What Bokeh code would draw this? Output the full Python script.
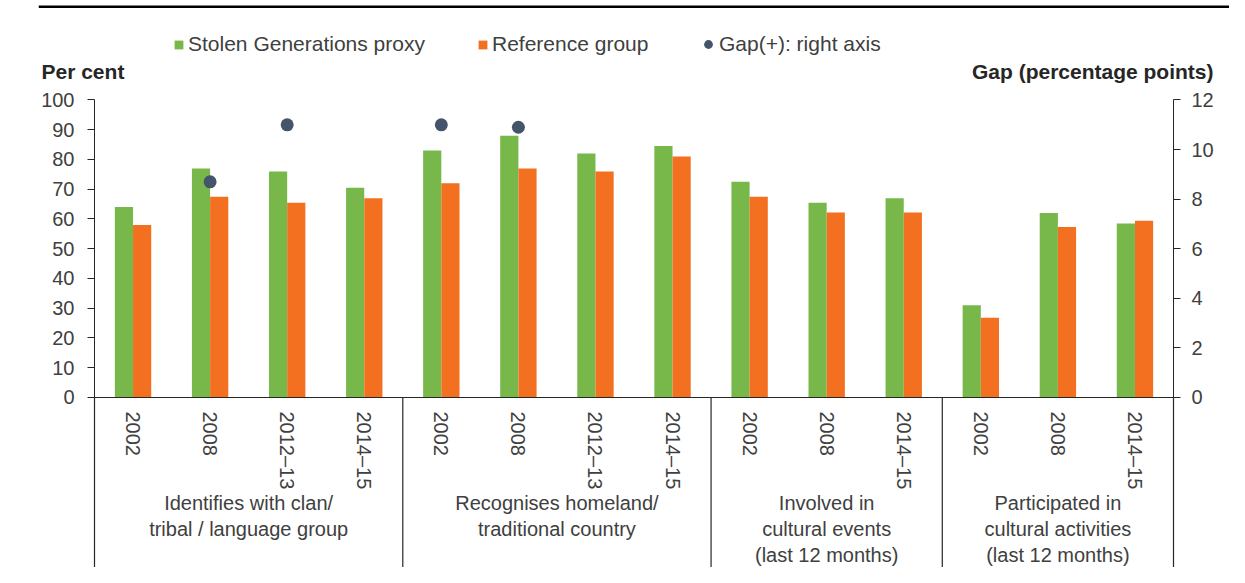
import numpy as np
from bokeh.plotting import figure
from bokeh.models import (FactorRange, Range1d, LinearAxis, CategoricalAxis, Legend,
                          LegendItem, Label, ColumnDataSource, BoxAnnotation)
from bokeh.transform import dodge
from bokeh.embed import file_html
from bokeh.resources import INLINE

# ---------------- data ----------------
groups = [
    "Identifies with clan/\ntribal / language group",
    "Recognises homeland/\ntraditional country",
    "Involved in\ncultural events\n(last 12 months)",
    "Participated in\ncultural activities\n(last 12 months)",
]
periods = [
    ["2002", "2008", "2012–13", "2014–15"],
    ["2002", "2008", "2012–13", "2014–15"],
    ["2002", "2008", "2014–15"],
    ["2002", "2008", "2014–15"],
]
sg_proxy = [64, 77, 76, 70.5, 83, 88, 82, 84.5, 72.5, 65.5, 67, 31, 62, 58.5]
reference = [58, 67.5, 65.5, 67, 72, 77, 76, 81, 67.5, 62.2, 62.2, 26.8, 57.3, 59.4]
gap = [np.nan, 8.7, 11.0, np.nan, 11.0, 10.9, np.nan, np.nan,
       np.nan, np.nan, np.nan, np.nan, np.nan, np.nan]
left_ticks = list(range(0, 101, 10))
right_ticks = list(range(0, 13, 2))

GREEN = "#78B84A"
ORANGE = "#F37021"
DOT = "#44546A"
TXT = "#404040"
AX = "#262626"
FONT = "Liberation Sans"
FS = "20px"
FS_TXT = "21px"

factors = [(g, y) for g, ys in zip(groups, periods) for y in ys]
n = len(factors)
src = ColumnDataSource(dict(x=factors, sg=sg_proxy, ref=reference,
                            gap=np.array(gap, dtype=float)))

W, H = 1229, 567
# frame spans the canvas (minus a small left border); axes are pinned inside it
p = figure(
    x_range=FactorRange(factors=factors, range_padding=0.10380, range_padding_units="percent",
                        group_padding=0, subgroup_padding=0, factor_padding=0),
    y_range=Range1d(-57.143, 133.445),
    width=W, height=H, title=None,
    x_axis_location=None, y_axis_location=None,
    min_border=0, min_border_left=38,
    output_backend="svg", toolbar_location=None,
)
p.extra_y_ranges = {"gap": Range1d(-6.857, 16.013)}
p.outline_line_color = None
p.grid.visible = False
p.background_fill_color = "white"
p.border_fill_color = "white"

bw = 0.236
r_sg = p.vbar(x=dodge("x", -bw / 2, range=p.x_range), top="sg", width=bw,
              source=src, fill_color=GREEN, line_color=None)
r_ref = p.vbar(x=dodge("x", bw / 2, range=p.x_range), top="ref", width=bw,
               source=src, fill_color=ORANGE, line_color=None)
r_gap = p.scatter(x="x", y="gap", y_range_name="gap", size=13, source=src,
                  fill_color=DOT, line_color=None)

# group dividers running down from the category axis
bounds = [0]
for ys in periods:
    bounds.append(bounds[-1] + len(ys))
p.segment(x0=bounds, y0=[0] * len(bounds), x1=bounds, y1=[-80] * len(bounds),
          line_color=AX, line_width=1.2)

def style_num_axis(ax, standoff):
    ax.minor_tick_line_color = None
    ax.major_tick_in = 0
    ax.major_tick_out = 7
    ax.major_label_standoff = standoff
    ax.axis_line_color = AX
    ax.major_tick_line_color = AX
    ax.major_label_text_font = FONT
    ax.major_label_text_font_size = FS
    ax.major_label_text_color = TXT

# left axis (per cent)
ya = LinearAxis(ticker=left_ticks, fixed_location=0, bounds=(0, 100))
style_num_axis(ya, 13)
p.add_layout(ya, "left")

# right axis (gap)
ra = LinearAxis(y_range_name="gap", ticker=right_ticks, fixed_location=n, bounds=(0, 12))
style_num_axis(ra, 11)
p.add_layout(ra, "right")

# category axis (years); group names drawn as labels below
xa = CategoricalAxis(fixed_location=0, bounds=(0, n))
xa.axis_line_color = AX
xa.major_tick_line_color = None
xa.major_tick_out = 0
xa.major_tick_in = 0
xa.major_label_standoff = 14
xa.major_label_orientation = "vertical"
xa.major_label_text_font = FONT
xa.major_label_text_font_size = FS
xa.major_label_text_color = TXT
xa.group_text_color = None
xa.separator_line_color = None
p.add_layout(xa, "below")

for i, g in enumerate(groups):
    cx = (bounds[i] + bounds[i + 1]) / 2
    p.add_layout(Label(x=cx, y=H - 491, y_units="screen", text=g,
                       text_font=FONT, text_font_size=FS, text_color=TXT,
                       text_align="center", text_baseline="top",
                       text_line_height=1.2))

# axis titles
p.add_layout(Label(x=3, y=H - 71, x_units="screen", y_units="screen",
                   text="Per cent", text_font=FONT, text_font_size="21px",
                   text_font_style="bold", text_color="#262626",
                   text_baseline="middle", text_align="left"))
p.add_layout(Label(x=1175, y=H - 71, x_units="screen", y_units="screen",
                   text="Gap (percentage points)", text_font=FONT, text_font_size="21px",
                   text_font_style="bold", text_color="#262626",
                   text_baseline="middle", text_align="right"))

# chart border line along the top
p.add_layout(BoxAnnotation(top=H - 5, bottom=H - 7.5, top_units="screen",
                           bottom_units="screen", fill_color="black", fill_alpha=1,
                           line_color=None))

# legends
def make_legend(label, rend, loc, gw, gh, standoff):
    lg = Legend(items=[LegendItem(label=label, renderers=[rend])], location=loc,
                orientation="horizontal", glyph_width=gw, glyph_height=gh,
                label_standoff=standoff, padding=0, margin=0, spacing=0,
                border_line_color=None, background_fill_alpha=0,
                label_text_font=FONT, label_text_font_size=FS_TXT,
                label_text_color=TXT, label_height=22)
    p.add_layout(lg, "center")

make_legend("Stolen Generations proxy", r_sg, (135, 511), 11, 11, 4)
make_legend("Reference group", r_ref, (439, 511), 11, 11, 4)
make_legend("Gap(+): right axis", r_gap, (659, 511), 22, 22, 0)

open("out.html", "w").write(file_html(p, INLINE))
